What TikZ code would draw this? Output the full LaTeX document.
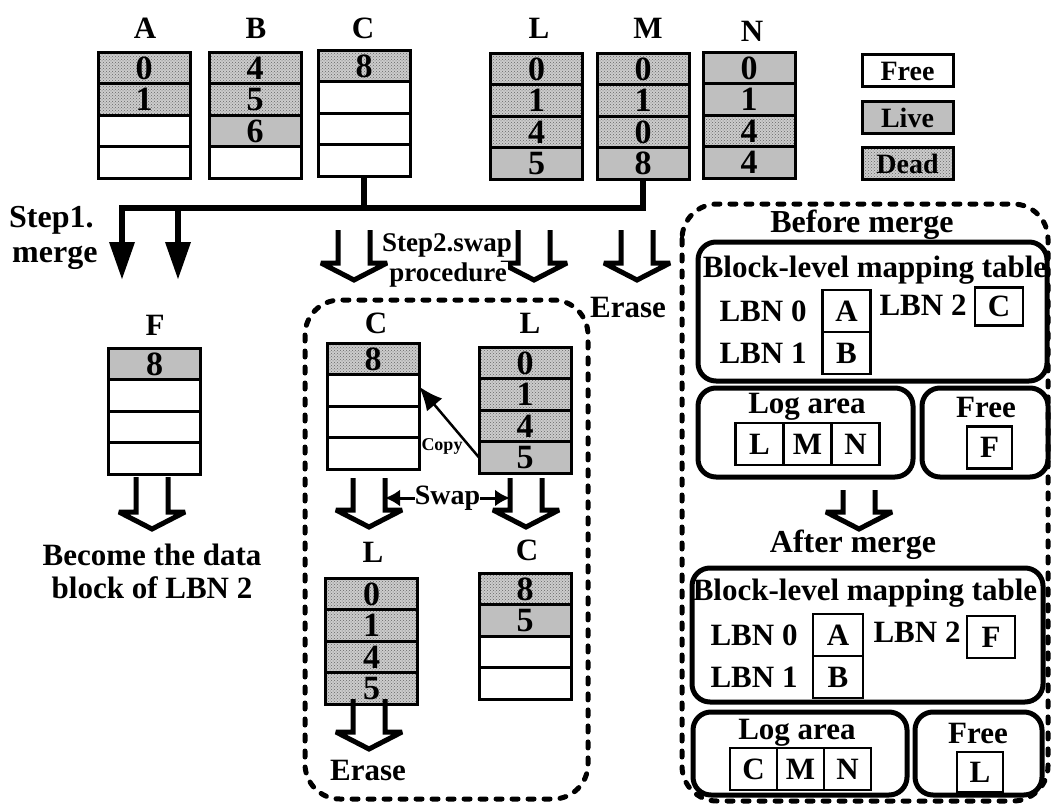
\documentclass[tikz,border=0pt]{standalone}
\usepackage{fontspec}
\setmainfont{Liberation Serif}
\usetikzlibrary{arrows.meta,patterns,positioning}

\tikzset{pics/openarrow/.style={code={%
  \draw[line width=5pt,line join=miter,miter limit=4] (-16,-#1) -- (-16,0) -- (-33,0) -- (0,17) -- (33,0) -- (16,0) -- (16,-#1);}}}

\begin{document}
\begin{tikzpicture}[x=1pt,y=-1pt,>=latex,
  txt/.style={inner sep=1pt,font={\fontsize{31}{31}\selectfont\bfseries}},
  lab/.style={txt,fill=white},
  cell/.style={draw,line width=3pt,outer sep=0pt,inner sep=0pt,minimum width=92pt,minimum height=31.5pt,font={\fontsize{34}{34}\selectfont\bfseries}},
  freecell/.style={cell,fill=white},
  livecell/.style={cell,fill=black!25},
  deadcell/.style={cell,preaction={fill=black!20},pattern=crosshatch dots,pattern color=black!60},
  panel/.style={draw,line width=5pt,rounded corners=18pt,inner sep=0pt},
  sbox/.style={draw,line width=2.5pt,outer sep=0pt,inner sep=0pt,minimum width=48pt,minimum height=42pt,font={\fontsize{31}{31}\selectfont\bfseries}},
  dashbox/.style={line width=5pt,line cap=round,dash pattern=on 6pt off 10pt,rounded corners=35pt},
  mergeline/.style={line width=6.5pt,line join=miter},
  mergearrow/.style={mergeline,-{Triangle[width=24pt,length=38pt]}},
  copyarrow/.style={line width=2.5pt,-{Latex[length=24pt,width=20pt]}},
  swaparrow/.style={line width=3pt,{Latex[length=15pt,width=17pt]}-{Latex[length=15pt,width=17pt]}}]
\useasboundingbox (0,0) rectangle (1051,805);
% block A
\node[lab] (Alab) at (145,28) {A};
\node[deadcell] (A0) at (144,68) {0};
\node[deadcell,below=0pt of A0] (A1) {1};
\node[freecell,below=0pt of A1] (A2) {};
\node[freecell,below=0pt of A2] (A3) {};
% block B
\node[lab] (Blab) at (256,28) {B};
\node[deadcell] (B0) at (255,68) {4};
\node[deadcell,below=0pt of B0] (B1) {5};
\node[livecell,below=0pt of B1] (B2) {6};
\node[freecell,below=0pt of B2] (B3) {};
% block C
\node[lab] (Clab) at (363,28) {C};
\node[deadcell] (C0) at (364,66) {8};
\node[freecell,below=0pt of C0] (C1) {};
\node[freecell,below=0pt of C1] (C2) {};
\node[freecell,below=0pt of C2] (C3) {};
% block L
\node[lab] (Llab) at (539,28) {L};
\node[deadcell] (L0) at (536.5,69) {0};
\node[deadcell,below=0pt of L0] (L1) {1};
\node[deadcell,below=0pt of L1] (L2) {4};
\node[livecell,below=0pt of L2] (L3) {5};
% block M
\node[lab] (Mlab) at (648,28) {M};
\node[deadcell] (M0) at (643,69) {0};
\node[deadcell,below=0pt of M0] (M1) {1};
\node[deadcell,below=0pt of M1] (M2) {0};
\node[livecell,below=0pt of M2] (M3) {8};
% block N
\node[lab] (Nlab) at (752,31) {N};
\node[livecell] (N0) at (749,68) {0};
\node[livecell,below=0pt of N0] (N1) {1};
\node[deadcell,below=0pt of N1] (N2) {4};
\node[livecell,below=0pt of N2] (N3) {4};
% legend
\node[freecell,minimum width=91pt,minimum height=32pt,font={\fontsize{28}{28}\selectfont\bfseries}] (legfree) at (907.5,71) {Free};
\node[livecell,minimum width=91pt,minimum height=32pt,font={\fontsize{28}{28}\selectfont\bfseries}] (leglive) at (907.5,117.5) {Live};
\node[deadcell,minimum width=91pt,minimum height=32pt,font={\fontsize{28}{28}\selectfont\bfseries}] (legdead) at (907.5,164) {Dead};
% step 1: merge into F
\coordinate (m1) at (122,208);
\coordinate (m2) at (178,208);
\coordinate (m1e) at (122,280);
\coordinate (m2e) at (178,280);
\draw[mergeline] (C3.south) -- (C3.south |- m1);
\draw[mergearrow] (M3.south) |- (m1) -- (m1e);
\draw[mergearrow] (m2) -- (m2e);
\node[txt,anchor=west,font={\fontsize{32}{32}\selectfont\bfseries}] (step1) at (8,220) {Step1.};
\node[txt,anchor=west,font={\fontsize{32}{32}\selectfont\bfseries}] (merge) at (11,258) {merge};
% block F
\node[lab] (Flab) at (155,325) {F};
\node[livecell] (F0) at (154.5,364) {8};
\node[freecell,below=0pt of F0] (F1) {};
\node[freecell,below=0pt of F1] (F2) {};
\node[freecell,below=0pt of F2] (F3) {};
\pic at (152,512) {openarrow=35};
\node[txt,align=center,font={\fontsize{31}{33}\selectfont\bfseries}] (become) at (152,571) {Become the data\\block of LBN 2};
% step 2: swap procedure
\pic at (354,263) {openarrow=33};
\pic at (534,263) {openarrow=33};
\pic at (637,263) {openarrow=33};
\node[lab,font={\fontsize{27}{27}\selectfont\bfseries}] (step2) at (447,245) {Step2.swap};
\node[lab,font={\fontsize{27}{27}\selectfont\bfseries}] (proc) at (448,275) {procedure};
\node[lab] (erase1) at (628,307) {Erase};
\draw[dashbox] (305,300) rectangle (588,799);
% C and L before swap
\node[lab] (Cmlab) at (376,323) {C};
\node[deadcell] (Cm0) at (373,359) {8};
\node[freecell,below=0pt of Cm0] (Cm1) {};
\node[freecell,below=0pt of Cm1] (Cm2) {};
\node[freecell,below=0pt of Cm2] (Cm3) {};
\node[lab] (Lmlab) at (530,323) {L};
\node[deadcell] (Lm0) at (525,363) {0};
\node[deadcell,below=0pt of Lm0] (Lm1) {1};
\node[deadcell,below=0pt of Lm1] (Lm2) {4};
\node[livecell,below=0pt of Lm2] (Lm3) {5};
\draw[copyarrow] (Lm3.west) -- ([yshift=4pt]Cm1.east);
\node[txt,font={\fontsize{18}{18}\selectfont\bfseries}] (copytxt) at (442,446) {Copy};
\pic at (369,510) {openarrow=32};
\pic at (526,510) {openarrow=32};
\coordinate (sw1) at (385,498);
\coordinate (sw2) at (510,498);
\draw[swaparrow] (sw1) -- (sw2) node[lab,midway,inner sep=0pt,font={\fontsize{28}{28}\selectfont\bfseries}] (swaptxt) {Swap};
% L and C after swap
\node[lab] (Lllab) at (373,552) {L};
\node[deadcell] (Ll0) at (371.5,594) {0};
\node[deadcell,below=0pt of Ll0] (Ll1) {1};
\node[deadcell,below=0pt of Ll1] (Ll2) {4};
\node[deadcell,below=0pt of Ll2] (Ll3) {5};
\node[lab] (Cllab) at (527,550) {C};
\node[deadcell] (Cl0) at (525,589) {8};
\node[livecell,below=0pt of Cl0] (Cl1) {5};
\node[freecell,below=0pt of Cl1] (Cl2) {};
\node[freecell,below=0pt of Cl2] (Cl3) {};
\pic at (369,732) {openarrow=33};
\node[txt] (erase2) at (368,770) {Erase};
% mapping before merge
\draw[dashbox] (682,204) rectangle (1048,801);
\node[txt,font={\fontsize{32}{32}\selectfont\bfseries}] (before) at (862,225) {Before merge};
\node[panel,minimum width=349pt,minimum height=139pt] (tab1) at (872.5,311.5) {};
\node[txt] (bl1) at (875,270) {Block-level mapping table};
\node[txt] (lbn10) at (763,311) {LBN 0};
\node[txt] (lbn11) at (763,353) {LBN 1};
\node[sbox] (tA1) at (846.5,311) {A};
\node[sbox,below=0pt of tA1] (tB1) {B};
\node[txt] (lbn12) at (923,305) {LBN 2};
\node[sbox,minimum height=38pt] (tC1) at (999,306.5) {C};
\node[panel,minimum width=215pt,minimum height=89pt] (log1) at (805.5,432.5) {};
\node[txt] (log1t) at (807,407) {Log area};
\node[sbox] (lg1L) at (759.5,444) {L};
\node[sbox,right=0pt of lg1L] (lg1M) {M};
\node[sbox,right=0pt of lg1M] (lg1N) {N};
\node[panel,minimum width=126pt,minimum height=89pt] (free1) at (985,432.5) {};
\node[txt] (free1t) at (986,407) {Free};
\node[sbox,minimum width=45pt] (fr1F) at (989.5,447.5) {F};
\pic at (859,512) {openarrow=22};
% mapping after merge
\node[txt,font={\fontsize{32}{32}\selectfont\bfseries}] (after) at (853,545) {After merge};
\node[panel,minimum width=351pt,minimum height=134pt] (tab2) at (867.5,635) {};
\node[txt] (bl2) at (865,593) {Block-level mapping table};
\node[txt] (lbn20) at (754,635) {LBN 0};
\node[txt] (lbn21) at (754,677) {LBN 1};
\node[sbox,minimum width=50pt] (tA2) at (838,635) {A};
\node[sbox,minimum width=50pt,below=0pt of tA2] (tB2) {B};
\node[txt] (lbn22) at (917,632) {LBN 2};
\node[sbox] (tF2) at (991,637) {F};
\node[panel,minimum width=214pt,minimum height=83pt] (log2) at (800,753.5) {};
\node[txt] (log2t) at (797,733) {Log area};
\node[sbox,minimum width=47pt] (lg2C) at (753.5,769) {C};
\node[sbox,minimum width=47pt,right=0pt of lg2C] (lg2M) {M};
\node[sbox,minimum width=47pt,right=0pt of lg2M] (lg2N) {N};
\node[panel,minimum width=127pt,minimum height=83pt] (free2) at (978.5,753.5) {};
\node[txt] (free2t) at (978,733) {Free};
\node[sbox,minimum width=46pt,minimum height=40pt] (fr2L) at (980,772) {L};
\end{tikzpicture}
\end{document}
